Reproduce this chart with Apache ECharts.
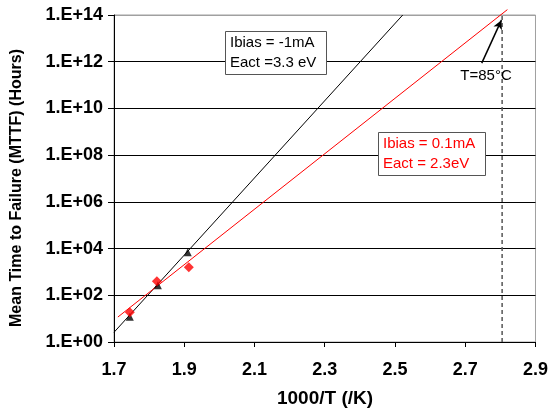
<!DOCTYPE html>
<html>
<head>
<meta charset="utf-8">
<script src="https://cdn.jsdelivr.net/npm/echarts@6/dist/echarts.min.js"></script>
<style>
  html, body { margin: 0; padding: 0; background: #fff; }
  #chart { width: 551px; height: 410px; }
</style>
</head>
<body>
<div id="chart"></div>
<script>
  // measured points (1000/T, MTTF hours)
  var blackX = [1.745, 1.825, 1.91];
  var blackY = [12, 270, 7000];
  var redX = [1.745, 1.822, 1.913];
  var redY = [19, 400, 1600];
  // fitted lines, end points
  var blackFit = [[1.7, 2.6], [2.522, 1e14]];
  var redFit = [[1.711, 11.7], [2.82, 1.7e14]];
  var t85 = 2.805;
  var xTicks = [1.7, 1.9, 2.1, 2.3, 2.5, 2.7, 2.9];

  var FONT = 'Arial, "Liberation Sans", sans-serif';

  function pairs(xs, ys) {
    return xs.map(function (x, i) { return [x, ys[i]]; });
  }

  var myChart = echarts.init(document.getElementById('chart'));
  myChart.setOption({
    animation: false,
    backgroundColor: '#fff',
    grid: {
      left: 114, right: 14, top: 15, bottom: 68,
      show: true,
      borderColor: '#a0a0a0',
      borderWidth: 1
    },
    xAxis: {
      type: 'value',
      min: xTicks[0],
      max: xTicks[xTicks.length - 1],
      interval: 0.2,
      axisLine: { lineStyle: { color: '#000', width: 1 } },
      axisTick: { show: true, inside: false, length: 5, lineStyle: { color: '#000' } },
      axisLabel: {
        margin: 19,
        color: '#000',
        fontWeight: 'bold',
        fontSize: 18,
        fontFamily: FONT,
        formatter: function (v) { return v.toFixed(1); }
      },
      splitLine: { show: false }
    },
    yAxis: {
      type: 'log',
      logBase: 10,
      min: 1,
      max: 1e14,
      interval: 2,
      axisLine: { lineStyle: { color: '#000', width: 1 } },
      axisTick: { show: true, inside: false, length: 6, lineStyle: { color: '#000' } },
      axisLabel: {
        margin: 11,
        color: '#000',
        fontWeight: 'bold',
        fontSize: 18,
        fontFamily: FONT,
        formatter: function (v) {
          var e = Math.round(Math.log10(v));
          return '1.E+' + (e < 10 ? '0' : '') + e;
        }
      },
      splitLine: {
        show: true,
        lineStyle: {
          color: ['#000', '#000', '#000', '#000', '#000', '#000', '#000', '#a0a0a0'],
          width: 1
        }
      }
    },
    graphic: [
      {
        type: 'text', x: 17, y: 188, rotation: Math.PI / 2,
        style: {
          text: 'Mean Time to Failure (MTTF) (Hours)',
          font: 'bold 16px ' + FONT, fill: '#000',
          textAlign: 'center', textVerticalAlign: 'middle'
        }
      },
      {
        type: 'text', x: 325, y: 399,
        style: {
          text: '1000/T (/K)',
          font: 'bold 19px ' + FONT, fill: '#000',
          textAlign: 'center', textVerticalAlign: 'middle'
        }
      },
      {
        type: 'rect', shape: { x: 225.5, y: 31.5, width: 101, height: 43 },
        style: { fill: '#fff', stroke: '#555', lineWidth: 1 }, z: 50
      },
      {
        type: 'text', x: 230, y: 33, z: 51,
        style: {
          text: 'Ibias = -1mA\nEact =3.3 eV',
          font: '15px ' + FONT, fill: '#000', lineHeight: 20
        }
      },
      {
        type: 'rect', shape: { x: 378.5, y: 132.5, width: 107, height: 43 },
        style: { fill: '#fff', stroke: '#555', lineWidth: 1 }, z: 50
      },
      {
        type: 'text', x: 383, y: 134, z: 51,
        style: {
          text: 'Ibias = 0.1mA\nEact = 2.3eV',
          font: '15px ' + FONT, fill: '#ff0000', lineHeight: 20
        }
      },
      {
        type: 'text', x: 486, y: 76, z: 51,
        style: {
          text: 'T=85°C',
          font: '15px ' + FONT, fill: '#000',
          textAlign: 'center', textVerticalAlign: 'middle'
        }
      }
    ],
    series: [
      {
        type: 'line',
        data: blackFit,
        symbol: 'none',
        lineStyle: { color: '#000', width: 1 },
        z: 3
      },
      {
        type: 'line',
        data: redFit,
        symbol: 'none',
        clip: false,
        lineStyle: { color: '#ff0000', width: 1 },
        z: 3
      },
      {
        type: 'line',
        data: [[t85, 1], [t85, 1e14]],
        symbol: 'none',
        lineStyle: { color: '#555', width: 1.5, type: [4, 3] },
        z: 2,
        markLine: {
          silent: true,
          symbol: ['none', 'arrow'],
          symbolSize: [7, 9],
          label: { show: false },
          lineStyle: { color: '#000', width: 1.5, type: 'solid' },
          data: [[
            { coord: [2.747, 8.7e11] },
            { coord: [2.803, 6e13] }
          ]]
        }
      },
      {
        type: 'scatter',
        data: pairs(blackX, blackY),
        symbol: 'triangle',
        symbolSize: 8,
        itemStyle: { color: '#000' },
        z: 4
      },
      {
        type: 'scatter',
        data: pairs(redX, redY),
        symbol: 'diamond',
        symbolSize: 10,
        itemStyle: { color: '#ff0000' },
        z: 4
      }
    ]
  });
</script>
</body>
</html>
